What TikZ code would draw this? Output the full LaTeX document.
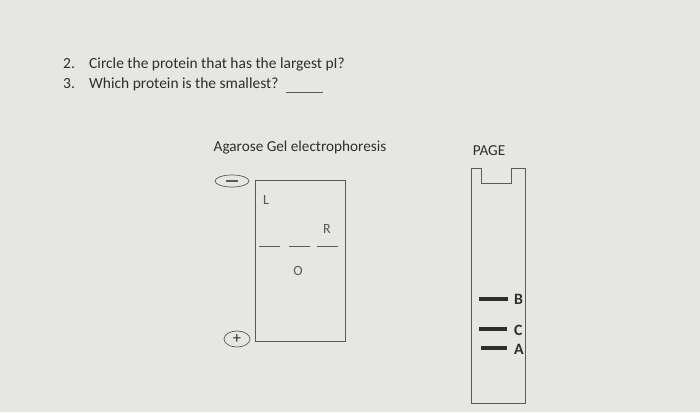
\documentclass[tikz,border=0pt]{standalone}
\usepackage{fontspec}
\setmainfont{Carlito}
\usepackage{xcolor}
\usetikzlibrary{positioning, shapes.geometric}
\definecolor{paper}{HTML}{E6E6E3}
\definecolor{ink}{HTML}{2E2E2E}
\definecolor{rule}{HTML}{5A5A5A}

\begin{document}
\begin{tikzpicture}[
    x=0.03cm, y=-0.03cm,
    every node/.style={text=ink, inner sep=0pt},
    question/.style={font=\fontsize{13.2}{15}\selectfont, anchor=west},
    heading/.style={font=\fontsize{13}{15}\selectfont},
    lane/.style={font=\fontsize{12}{13}\selectfont, text=ink!80},
    bandlabel/.style={anchor=west, font=\fontsize{13.5}{15}\selectfont\bfseries},
    gelbox/.style={draw=rule, line width=0.6pt},
    band/.style={draw=rule, line width=0.6pt},
    thickband/.style={draw=ink, line width=3.2pt},
    electrode/.style={draw=rule, ellipse, line width=0.6pt}
]
% ---------- BACKGROUND
\fill[paper] (0,0) rectangle (700,412);
\useasboundingbox (0,0) rectangle (700,412);

% ---------- QUESTIONS
\node[question] (num2) at (63,64) {2.};
\node[question] (q2) at (89,64) {Circle the protein that has the largest pI?};
\node[question] (num3) at (63,84) {3.};
\node[question] (q3) at (89,84) {Which protein is the smallest?};
\coordinate (blankL) at (286,92);
\coordinate (blankR) at (323,92);
\draw[rule, line width=0.6pt] (blankL) -- (blankR);

% ---------- AGAROSE GEL
\node[heading] (agtitle) at (300,148) {Agarose Gel electrophoresis};
\node[gelbox, minimum width=90*0.03cm, minimum height=161*0.03cm] (agarose) at (300,260.5) {};
\node[electrode, minimum width=34*0.03cm, minimum height=12*0.03cm] (minus) at (232,181) {};
\draw[rule, line width=1.3pt] ([xshift=-6*0.03cm]minus.center) -- ([xshift=6*0.03cm]minus.center);
\node[electrode, minimum width=26*0.03cm, minimum height=16*0.03cm, font=\fontsize{14}{15}\selectfont] (plus) at (237,339) {+};

\node[lane] (laneL) at (266,200) {L};
\node[lane] (laneR) at (327,229) {R};
\node[lane] (laneO) at (298,271) {O};
\foreach \xa/\xb in {259/280, 289/310, 317/338}
  \draw[band] (\xa,246) -- (\xb,246);

% ---------- PAGE GEL
\node[heading] (pagetitle) at (489,151) {PAGE};
\draw[gelbox] (471,403) -- (471,168) -- (481,168) -- (481,183) -- (511,183)
  -- (511,168) -- (525,168) -- (525,403) -- cycle;
\node[bandlabel] (bandB) at (514,299) {B};
\node[bandlabel] (bandC) at (514,330) {C};
\node[bandlabel] (bandA) at (514,349) {A};
\draw[thickband] (479,299) -- ([xshift=-6*0.03cm]bandB.west);
\draw[thickband] (479,329) -- ([xshift=-7*0.03cm, yshift=0.03cm]bandC.west);
\draw[thickband] (481,348) -- ([xshift=-7*0.03cm, yshift=0.03cm]bandA.west);
\end{tikzpicture}
\end{document}
